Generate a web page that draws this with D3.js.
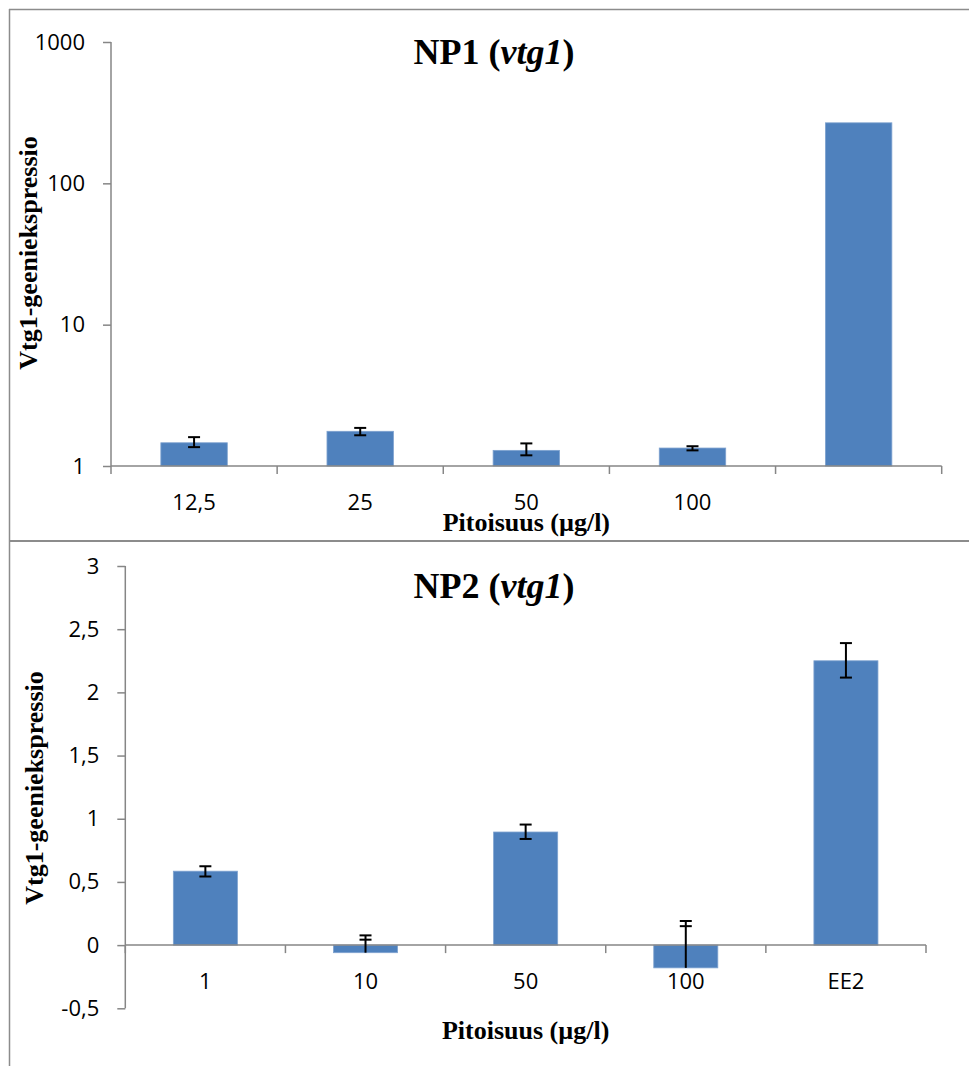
<!DOCTYPE html>
<html>
<head>
<meta charset="utf-8">
<script src="https://cdn.jsdelivr.net/npm/d3@7"></script>
<style>
  body { margin: 0; background: #fff; }
  svg { display: block; }
  .tick text { font-family: "Open Sans", sans-serif; font-size: 22px; fill: #000; }
  .axis-title { font-family: "Liberation Serif", "Times New Roman", serif; font-size: 26px; font-weight: bold; }
  .chart-title { font-family: "Liberation Serif", "Times New Roman", serif; font-size: 36px; font-weight: bold; }
</style>
</head>
<body>
<svg id="main" width="969" height="1066"></svg>
<script>
// NP1 (log scale)
var np1Categories = ['12,5', '25', '50', '100', ''];
var np1Values = [1.46, 1.76, 1.29, 1.34, 268];
var np1ErrLow = [1.36, 1.65, 1.19, 1.29, null];
var np1ErrHigh = [1.60, 1.86, 1.445, 1.38, null];
var np1Ticks = [1, 10, 100, 1000];

// NP2 (linear scale)
var np2Categories = ['1', '10', '50', '100', 'EE2'];
var np2Values = [0.585, -0.06, 0.895, -0.18, 2.25];
var np2ErrLow = [0.543, 0.043, 0.840, 0.150, 2.117];
var np2ErrHigh = [0.624, 0.077, 0.954, 0.191, 2.39];
var np2Ticks = [-0.5, 0, 0.5, 1, 1.5, 2, 2.5, 3];

var barColor = '#4F81BD',
    axisColor = '#868686';

var svg = d3.select('#main');

// panel frames
svg.append('line')
  .attr('x1', 9).attr('x2', 969).attr('y1', 9.5).attr('y2', 9.5)
  .attr('stroke', '#8c8c8c').attr('stroke-width', 1.5);
svg.append('line')
  .attr('x1', 9.5).attr('x2', 9.5).attr('y1', 9).attr('y2', 1066)
  .attr('stroke', '#8c8c8c').attr('stroke-width', 1.5);
svg.append('line')
  .attr('x1', 9).attr('x2', 969).attr('y1', 541).attr('y2', 541)
  .attr('stroke', '#8c8c8c').attr('stroke-width', 2);

drawChart({
  name: 'NP1',
  categories: np1Categories,
  values: np1Values,
  errLow: np1ErrLow,
  errHigh: np1ErrHigh,
  y: d3.scaleLog().domain([1, 1000]).range([466, 42]),
  ticks: np1Ticks,
  format: function (d) { return String(d); },
  base: 1,
  left: 111, right: 941.7,
  titleY: 64,
  yLabel: { x: 37, y: 253 },
  xLabelY: 531
});

drawChart({
  name: 'NP2',
  categories: np2Categories,
  values: np2Values,
  errLow: np2ErrLow,
  errHigh: np2ErrHigh,
  y: d3.scaleLinear().domain([-0.5, 3]).range([1008.3, 566]),
  ticks: np2Ticks,
  format: function (d) { return String(d).replace('.', ','); },
  base: 0,
  left: 125.3, right: 926,
  titleY: 597.5,
  yLabel: { x: 43, y: 788 },
  xLabelY: 1038.5
});

function drawChart(c) {
  var g = svg.append('g');
  var x = d3.scaleBand()
    .domain(c.categories)
    .range([c.left, c.right])
    .padding(0);
  var y = c.y,
      baseY = y(c.base),
      barW = x.bandwidth() * 0.4;

  // y axis
  var yAxis = g.append('g')
    .attr('transform', 'translate(' + c.left + ',0)')
    .call(d3.axisLeft(y).tickValues(c.ticks).tickFormat(c.format).tickSize(8).tickPadding(18));
  yAxis.select('.domain').attr('stroke', axisColor).attr('stroke-width', 1.5)
    .attr('d', 'M0,' + y.range()[0] + 'V' + y.range()[1]);
  yAxis.selectAll('.tick line').attr('stroke', axisColor).attr('stroke-width', 1.5);

  // bars
  g.append('g')
    .selectAll('rect')
    .data(c.values)
    .enter()
    .append('rect')
    .attr('x', function (d, i) { return x(c.categories[i]) + (x.bandwidth() - barW) / 2; })
    .attr('width', barW)
    .attr('y', function (d) { return Math.min(y(d), baseY); })
    .attr('height', function (d) { return Math.abs(y(d) - baseY); })
    .attr('fill', barColor)
    .attr('stroke', '#7ea2cf')
    .attr('stroke-width', 0.8);

  // x axis line + boundary ticks
  var xAxis = g.append('g');
  xAxis.append('line')
    .attr('x1', c.left).attr('x2', c.right)
    .attr('y1', baseY).attr('y2', baseY)
    .attr('stroke', axisColor).attr('stroke-width', 1.5);
  var bounds = c.categories.map(function (d) { return x(d); }).concat([x.range()[1]]);
  xAxis.selectAll('.bt')
    .data(bounds)
    .enter()
    .append('line')
    .attr('x1', function (d) { return d; })
    .attr('x2', function (d) { return d; })
    .attr('y1', baseY)
    .attr('y2', baseY + 8)
    .attr('stroke', axisColor)
    .attr('stroke-width', 1.5);
  xAxis.selectAll('.cat')
    .data(c.categories)
    .enter()
    .append('text')
    .attr('class', 'tick')
    .attr('x', function (d) { return x(d) + x.bandwidth() / 2; })
    .attr('y', baseY + 36)
    .attr('dy', '0.36em')
    .attr('text-anchor', 'middle')
    .style('font-family', '"Open Sans", sans-serif')
    .style('font-size', '22px')
    .text(function (d) { return d; });

  // error bars
  var eb = g.append('g').attr('stroke', '#000').attr('stroke-width', 2);
  c.values.forEach(function (v, i) {
    if (c.errHigh[i] == null) return;
    var cx = x(c.categories[i]) + x.bandwidth() / 2;
    var lo = Math.min(c.errLow[i], v);
    eb.append('line')
      .attr('x1', cx).attr('x2', cx)
      .attr('y1', y(lo)).attr('y2', y(c.errHigh[i]));
    [c.errLow[i], c.errHigh[i]].forEach(function (e) {
      eb.append('line')
        .attr('x1', cx - 6).attr('x2', cx + 6)
        .attr('y1', y(e)).attr('y2', y(e));
    });
  });

  // titles
  var t = g.append('text')
    .attr('class', 'chart-title')
    .attr('x', 494)
    .attr('y', c.titleY)
    .attr('text-anchor', 'middle');
  t.append('tspan').text(c.name + ' (');
  t.append('tspan').attr('font-style', 'italic').text('vtg1');
  t.append('tspan').text(')');

  g.append('text')
    .attr('class', 'axis-title')
    .attr('transform', 'translate(' + c.yLabel.x + ',' + c.yLabel.y + ') rotate(-90)')
    .attr('text-anchor', 'middle')
    .text('Vtg1-geeniekspressio');

  g.append('text')
    .attr('class', 'axis-title')
    .attr('x', (c.left + c.right) / 2)
    .attr('y', c.xLabelY)
    .attr('text-anchor', 'middle')
    .text('Pitoisuus (µg/l)');
}
</script>
</body>
</html>
